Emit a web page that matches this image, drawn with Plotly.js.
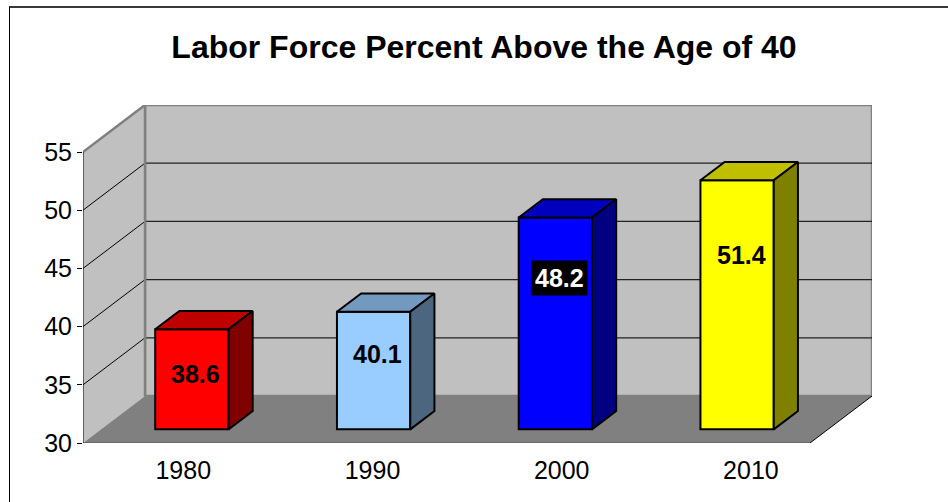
<!DOCTYPE html>
<html>
<head>
<meta charset="utf-8">
<script src="https://cdn.plot.ly/plotly-3.0.1.min.js"></script>
<style>
  html, body { margin: 0; padding: 0; background: #fff; }
  #wrap { position: relative; width: 948px; height: 502px; overflow: hidden; }
  #chart { position: absolute; left: 0; top: 0; width: 948px; height: 502px; }
  #frame { position: absolute; left: 9px; top: 6px; width: 1000px; height: 600px;
           border-left: 1px solid #000; border-top: 2px solid #3a3a3a; pointer-events: none; }
</style>
</head>
<body>
<div id="wrap"><div id="chart"></div><div id="frame"></div></div>
<script>
// ---- data ----
const categories = ['1980', '1990', '2000', '2010'];
const values = [38.6, 40.1, 48.2, 51.4];
const yTicks = [30, 35, 40, 45, 50, 55];
const titleText = 'Labor Force Percent Above the Age of 40';

// ---- styling ----
const frontColors = ['#ff0000', '#99ccff', '#0000ff', '#ffff00'];
const labelColors = ['#000', '#000', '#fff', '#000'];
const labelBg = ['rgba(0,0,0,0)', 'rgba(0,0,0,0)', '#000', 'rgba(0,0,0,0)'];
const labelFrac = [0.55, 0.64, 0.715, 0.70];
const FONT = 'Liberation Sans, Arial, Helvetica, sans-serif';

// 3D geometry (in axis units)
const DX = 0.3411;          // full depth, x units
const DY = 4.038;           // full depth, y units
const F0 = 0.29, F1 = 0.68; // bar front / back depth fractions
const BW = 0.4033;          // bar width
const Y0 = yTicks[0], Y1 = yTicks[yTicks.length - 1];
const X0 = -0.5, X1 = categories.length - 0.5;

function shade(hex, k) {
  const n = parseInt(hex.slice(1), 16);
  const r = Math.round(((n >> 16) & 255) * k), g = Math.round(((n >> 8) & 255) * k), b = Math.round((n & 255) * k);
  return 'rgb(' + r + ',' + g + ',' + b + ')';
}

const traces = [];
const xc = categories.map((c, i) => i + F0 * DX);
const baseY = Y0 + F0 * DY;
traces.push({
  type: 'bar', x: xc, y: values.map(v => v - Y0), base: baseY, width: BW,
  marker: { color: frontColors, line: { color: '#000', width: 2 } },
  hoverinfo: 'skip', showlegend: false
});
const bdx = (F1 - F0) * DX, bdy = (F1 - F0) * DY;
values.forEach((v, i) => {
  const xl = xc[i] - BW / 2, xr = xc[i] + BW / 2, top = v + F0 * DY;
  traces.push({
    type: 'scatter', mode: 'lines', fill: 'toself',
    x: [xl, xr, xr + bdx, xl + bdx, xl], y: [top, top, top + bdy, top + bdy, top],
    fillcolor: shade(frontColors[i], 0.75), line: { color: '#000', width: 2 },
    hoverinfo: 'skip', showlegend: false
  });
  traces.push({
    type: 'scatter', mode: 'lines', fill: 'toself',
    x: [xr, xr, xr + bdx, xr + bdx, xr], y: [baseY, top, top + bdy, baseY + bdy, baseY],
    fillcolor: shade(frontColors[i], 0.5), line: { color: '#000', width: 2 },
    hoverinfo: 'skip', showlegend: false
  });
});
// invisible trace to carry the category label axis
traces.push({ type: 'scatter', mode: 'none', x: categories.map((c, i) => i), y: values,
  xaxis: 'x2', yaxis: 'y', hoverinfo: 'skip', showlegend: false });

// ---- walls, floor, gridlines ----
const shapes = [];
shapes.push({ type: 'rect', xref: 'x', yref: 'y', layer: 'below',
  x0: X0 + DX, x1: X1 + DX, y0: Y0 + DY, y1: Y1 + DY,
  fillcolor: '#c0c0c0', line: { color: '#808080', width: 2.5 } });
shapes.push({ type: 'path', xref: 'x', yref: 'y', layer: 'below',
  path: `M${X0},${Y0} L${X0},${Y1} L${X0 + DX},${Y1 + DY} L${X0 + DX},${Y0 + DY} Z`,
  fillcolor: '#c0c0c0', line: { width: 0 } });
shapes.push({ type: 'path', xref: 'x', yref: 'y', layer: 'below',
  path: `M${X0},${Y0} L${X1},${Y0} L${X1 + DX},${Y0 + DY} L${X0 + DX},${Y0 + DY} Z`,
  fillcolor: '#808080', line: { width: 0 } });
yTicks.slice(1, -1).forEach(k => {
  shapes.push({ type: 'line', xref: 'x', yref: 'y', layer: 'below',
    x0: X0 + DX, x1: X1 + DX, y0: k + DY, y1: k + DY, line: { color: '#222', width: 1.2 } });
  shapes.push({ type: 'line', xref: 'x', yref: 'y', layer: 'below',
    x0: X0, x1: X0 + DX, y0: k, y1: k + DY, line: { color: '#000', width: 1 } });
});
shapes.push({ type: 'line', xref: 'x', yref: 'y', layer: 'below',
  x0: X0, x1: X0 + DX, y0: Y1, y1: Y1 + DY, line: { color: '#808080', width: 2.5 } });
shapes.push({ type: 'line', xref: 'x', yref: 'y', layer: 'below',
  x0: X0 + DX, x1: X0 + DX, y0: Y0 + DY, y1: Y1 + DY, line: { color: '#808080', width: 2.5 } });
shapes.push({ type: 'line', xref: 'x', yref: 'y', layer: 'below',
  x0: X1, x1: X1 + DX, y0: Y0, y1: Y0 + DY, line: { color: '#000', width: 1 } });
shapes.push({ type: 'line', xref: 'x', yref: 'y', layer: 'below',
  x0: X0, x1: X1, y0: Y0, y1: Y0, line: { color: '#555', width: 1 } });
shapes.push({ type: 'line', xref: 'x', yref: 'y', layer: 'below',
  x0: X0, x1: X0, y0: Y0, y1: Y1, line: { color: '#000', width: 1 } });

// ---- data labels ----
const annotations = values.map((v, i) => ({
  xref: 'x', yref: 'y', x: xc[i], xshift: 4,
  y: Y0 + labelFrac[i] * (v - Y0) + F0 * DY,
  text: v.toFixed(1), showarrow: false,
  font: { family: FONT, size: 25, color: labelColors[i], weight: 'bold' },
  bgcolor: labelBg[i], borderpad: 3
}));

const layout = {
  width: 948, height: 502,
  margin: { l: 83, r: 76, t: 105, b: 59, pad: 0 },
  paper_bgcolor: '#fff', plot_bgcolor: 'rgba(0,0,0,0)',
  title: { text: titleText, xref: 'container', yref: 'container', x: 484 / 948, y: 1 - 47 / 502,
    xanchor: 'center', yanchor: 'middle',
    font: { family: FONT, size: 32, color: '#000', weight: 'bold' } },
  showlegend: false,
  xaxis: { range: [X0, X1 + DX], showticklabels: false, showgrid: false, zeroline: false,
    showline: false, ticks: '', fixedrange: true },
  xaxis2: { overlaying: 'x', anchor: 'y', side: 'bottom', range: [-0.530, 3.640],
    tickvals: categories.map((c, i) => i), ticktext: categories,
    showgrid: false, zeroline: false, showline: false, ticks: '', ticklabelstandoff: 10,
    tickfont: { family: FONT, size: 25, color: '#000' }, fixedrange: true },
  yaxis: { range: [Y0, Y1 + DY], tickvals: yTicks, ticktext: yTicks.map(String),
    ticks: 'outside', ticklen: 5, tickwidth: 1, tickcolor: '#000', ticklabelstandoff: 0,
    showgrid: false, zeroline: false, showline: false,
    tickfont: { family: FONT, size: 25, color: '#000' }, fixedrange: true },
  shapes: shapes,
  annotations: annotations
};

Plotly.newPlot('chart', traces, layout, { staticPlot: true, displayModeBar: false });
</script>
</body>
</html>
